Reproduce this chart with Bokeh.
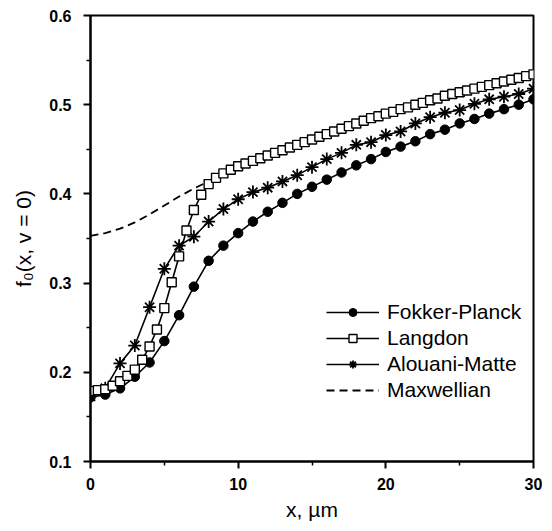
from bokeh.plotting import figure
from bokeh.models import Range1d, Legend, LegendItem, FixedTicker
from bokeh.embed import file_html
from bokeh.resources import INLINE

# Fokker-Planck, Alouani-Matte: every 1 um
x_fp = [0, 1, 2, 3, 4, 5, 6, 7, 8, 9, 10, 11, 12, 13, 14, 15, 16, 17, 18, 19, 20,
        21, 22, 23, 24, 25, 26, 27, 28, 29, 30]
fokker_planck = [0.172, 0.175, 0.182, 0.195, 0.211, 0.235, 0.264, 0.296, 0.325, 0.342,
                 0.356, 0.369, 0.380, 0.390, 0.400, 0.408, 0.416, 0.424, 0.432, 0.439,
                 0.447, 0.453, 0.459, 0.467, 0.472, 0.479, 0.484, 0.490, 0.495, 0.500, 0.506]
alouani_matte = [0.173, 0.182, 0.210, 0.230, 0.273, 0.316, 0.342, 0.352, 0.369, 0.383,
                 0.394, 0.402, 0.407, 0.414, 0.421, 0.430, 0.439, 0.446, 0.455, 0.458,
                 0.466, 0.470, 0.479, 0.486, 0.491, 0.494, 0.501, 0.506, 0.509, 0.512, 0.518]

# Langdon: every 0.5 um
x_la = [0.0, 0.5, 1.0, 1.5, 2.0, 2.5, 3.0, 3.5, 4.0, 4.5, 5.0, 5.5, 6.0, 6.5, 7.0, 7.5,
        8.0, 8.5, 9.0, 9.5, 10.0, 10.5, 11.0, 11.5, 12.0, 12.5, 13.0, 13.5, 14.0, 14.5,
        15.0, 15.5, 16.0, 16.5, 17.0, 17.5, 18.0, 18.5, 19.0, 19.5, 20.0, 20.5, 21.0,
        21.5, 22.0, 22.5, 23.0, 23.5, 24.0, 24.5, 25.0, 25.5, 26.0, 26.5, 27.0, 27.5,
        28.0, 28.5, 29.0, 29.5, 30.0]
langdon = [0.179, 0.180, 0.181, 0.185, 0.190, 0.196, 0.203, 0.214, 0.229, 0.248, 0.272,
           0.301, 0.330, 0.359, 0.382, 0.399, 0.411, 0.418, 0.423, 0.427, 0.431, 0.434,
           0.437, 0.440, 0.443, 0.446, 0.449, 0.452, 0.455, 0.458, 0.461, 0.464, 0.467,
           0.470, 0.473, 0.476, 0.479, 0.482, 0.485, 0.487, 0.490, 0.492, 0.495, 0.497,
           0.500, 0.502, 0.505, 0.507, 0.510, 0.512, 0.514, 0.516, 0.518, 0.520, 0.522,
           0.524, 0.526, 0.528, 0.530, 0.532, 0.534]

# Maxwellian (dashed)
x_mx = [0, 1, 2, 3, 4, 5, 6, 7, 8, 9, 10, 12, 14, 16, 18, 20, 22, 24, 26, 28, 30]
maxwellian = [0.353, 0.356, 0.361, 0.368, 0.377, 0.387, 0.397, 0.406, 0.414, 0.422,
              0.430, 0.443, 0.455, 0.467, 0.479, 0.490, 0.500, 0.510, 0.518, 0.526, 0.534]

x_ticks = [0, 10, 20, 30]
y_ticks = [0.1, 0.2, 0.3, 0.4, 0.5, 0.6]

FONT = "Liberation Sans"

p = figure(width=544, height=523, output_backend="svg", toolbar_location=None,
           x_range=Range1d(0, 30), y_range=Range1d(0.1, 0.6),
           min_border_left=90, min_border_right=11, min_border_top=15, min_border_bottom=59)
p.grid.visible = False
p.outline_line_color = "black"
p.outline_line_width = 2
p.background_fill_color = "white"

for ax in (p.xaxis[0], p.yaxis[0]):
    ax.axis_line_width = 2
    ax.major_tick_line_width = 2
    ax.minor_tick_line_width = 1.5
    ax.major_tick_out = 7
    ax.major_tick_in = 0
    ax.minor_tick_out = 4
    ax.minor_tick_in = 0
    ax.major_label_text_font = FONT
    ax.major_label_text_font_size = "16px"
    ax.major_label_text_font_style = "bold"
    ax.major_label_text_color = "black"
    ax.axis_label_text_font = FONT
    ax.axis_label_text_font_size = "21px"
    ax.axis_label_text_font_style = "normal"
    ax.axis_label_text_color = "black"

p.xaxis.ticker = FixedTicker(ticks=x_ticks, minor_ticks=[5, 15, 25])
p.yaxis.ticker = FixedTicker(ticks=y_ticks, minor_ticks=[0.15, 0.25, 0.35, 0.45, 0.55])
p.xaxis.major_label_standoff = 9
p.yaxis.major_label_standoff = 12
p.xaxis.axis_label = "x, µm"
p.yaxis.axis_label = "f₀(x, v = 0)"
p.xaxis.axis_label_standoff = 5
p.yaxis.axis_label_standoff = 11

mx = p.line(x_mx, maxwellian, line_color="black", line_width=1.8, line_dash="8 5")

fp_l = p.line(x_fp, fokker_planck, line_color="black", line_width=1.6)
fp_m = p.scatter(x_fp, fokker_planck, marker="circle", size=9.5, fill_color="black",
                 line_color="black")

am_l = p.line(x_fp, alouani_matte, line_color="black", line_width=1.6)
am_m = p.scatter(x_fp, alouani_matte, marker="asterisk", size=13, line_color="black",
                 line_width=1.8)

la_l = p.line(x_la, langdon, line_color="black", line_width=1.6)
la_m = p.scatter(x_la, langdon, marker="square", size=9, fill_color="white",
                 line_color="black", line_width=1.4)

legend = Legend(items=[
    LegendItem(label="Fokker-Planck", renderers=[fp_l, fp_m]),
    LegendItem(label="Langdon", renderers=[la_l, la_m]),
    LegendItem(label="Alouani-Matte", renderers=[am_l, am_m]),
    LegendItem(label="Maxwellian", renderers=[mx]),
], location=(236, 59))
legend.border_line_color = None
legend.background_fill_alpha = 0
legend.label_text_font = FONT
legend.label_text_font_size = "21px"
legend.label_text_color = "black"
legend.glyph_width = 53
legend.glyph_height = 20
legend.label_height = 20
legend.spacing = 2
legend.padding = 0
legend.margin = 0
legend.label_standoff = 8
p.add_layout(legend, "center")

open("out.html", "w").write(file_html(p, INLINE))
